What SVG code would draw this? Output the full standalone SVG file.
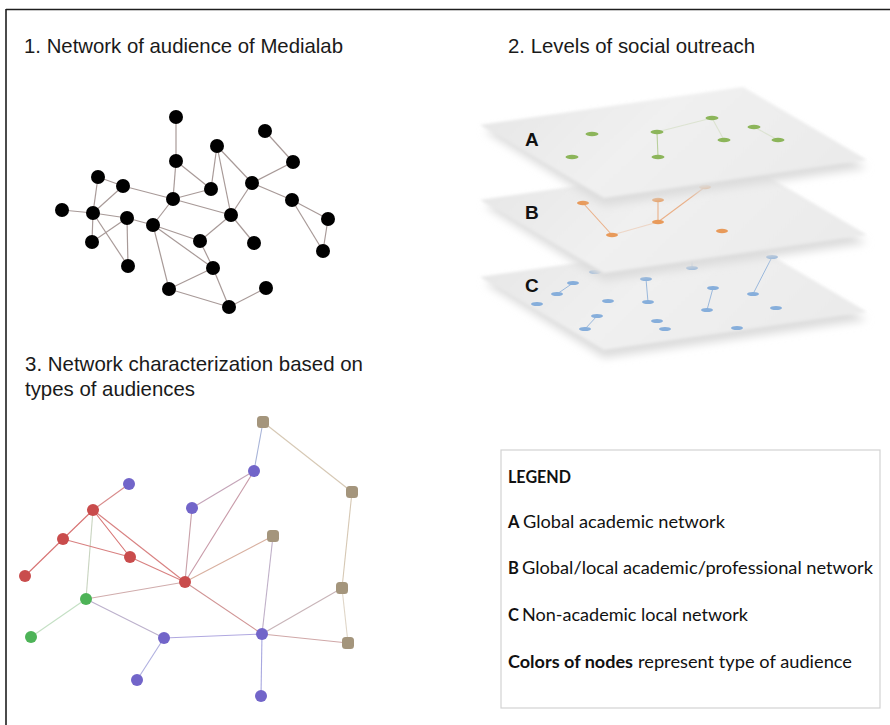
<svg xmlns="http://www.w3.org/2000/svg" width="890" height="725" viewBox="0 0 890 725">
<defs>
<style>
.title{font-family:"Liberation Sans",Arial,sans-serif;font-size:20.4px;fill:#1a1a1a}
.lab{font-family:"Liberation Sans",Arial,sans-serif;font-size:19px;font-weight:bold;fill:#111}
.leg{font-family:Lato,"Liberation Sans",sans-serif;font-size:16.5px;fill:#111}
.legb{font-family:Lato,"Liberation Sans",sans-serif;font-size:16.5px;font-weight:bold;fill:#111}
.p1e line{stroke:#a89a98;stroke-width:1.2}
.p1n{fill:#000}
.p3e line{stroke-width:1.1}
.red{fill:#c94c4c}
.blue{fill:#7265c9}
.tan{fill:#a4957c}
.green{fill:#4db357}
.ga{fill:#8cb55a}
.ob{fill:#e89a5a}
.bc{fill:#86aedb}
.plane{fill:url(#pg);filter:url(#soft)}
.shadow{fill:#dcdcdc;filter:url(#blur)}
</style>
<linearGradient id="pg" x1="0" y1="0" x2="1" y2="0.3">
<stop offset="0" stop-color="#e5e5e5"/>
<stop offset="0.5" stop-color="#f0f0f0"/>
<stop offset="1" stop-color="#ebebeb"/>
</linearGradient>
<filter id="soft" x="-5%" y="-20%" width="110%" height="140%"><feGaussianBlur stdDeviation="1.4"/></filter>
<filter id="blur" x="-10%" y="-30%" width="120%" height="160%"><feGaussianBlur stdDeviation="4"/></filter>
</defs>
<rect width="890" height="725" fill="#fff"/>
<g id="frame" stroke="#1e1e1e" stroke-width="1.6" fill="none">
<line x1="6" y1="9.5" x2="890" y2="9.5"/>
<line x1="6" y1="9" x2="6" y2="725"/>
</g>

<g id="titles">
<text class="title" x="24" y="53" textLength="319" lengthAdjust="spacingAndGlyphs">1. Network of audience of Medialab</text>
<text class="title" x="508" y="53" textLength="247" lengthAdjust="spacingAndGlyphs">2. Levels of social outreach</text>
<text class="title" x="25" y="371" textLength="338" lengthAdjust="spacingAndGlyphs">3. Network characterization based on</text>
<text class="title" x="25" y="396">types of audiences</text>
</g>

<!-- Panel 1 -->
<g id="p1-edges" class="p1e">
<line x1="176" y1="117" x2="176" y2="161"/>
<line x1="176" y1="161" x2="173" y2="199"/>
<line x1="176" y1="161" x2="211" y2="189"/>
<line x1="217" y1="146" x2="211" y2="189"/>
<line x1="217" y1="146" x2="252" y2="183"/>
<line x1="217" y1="146" x2="231" y2="215"/>
<line x1="265" y1="131" x2="293" y2="162"/>
<line x1="293" y1="162" x2="252" y2="183"/>
<line x1="252" y1="183" x2="292" y2="200"/>
<line x1="252" y1="183" x2="231" y2="215"/>
<line x1="292" y1="200" x2="328" y2="219"/>
<line x1="292" y1="200" x2="323" y2="251"/>
<line x1="328" y1="219" x2="323" y2="251"/>
<line x1="98" y1="177" x2="123" y2="186"/>
<line x1="98" y1="177" x2="93" y2="213"/>
<line x1="123" y1="186" x2="93" y2="213"/>
<line x1="123" y1="186" x2="173" y2="199"/>
<line x1="173" y1="199" x2="211" y2="189"/>
<line x1="173" y1="199" x2="231" y2="215"/>
<line x1="173" y1="199" x2="153" y2="225"/>
<line x1="62" y1="210" x2="93" y2="213"/>
<line x1="93" y1="213" x2="127" y2="218"/>
<line x1="93" y1="213" x2="92" y2="242"/>
<line x1="93" y1="213" x2="128" y2="266"/>
<line x1="127" y1="218" x2="92" y2="242"/>
<line x1="127" y1="218" x2="128" y2="266"/>
<line x1="127" y1="218" x2="153" y2="225"/>
<line x1="153" y1="225" x2="200" y2="241"/>
<line x1="153" y1="225" x2="213" y2="268"/>
<line x1="153" y1="225" x2="169" y2="289"/>
<line x1="231" y1="215" x2="200" y2="241"/>
<line x1="231" y1="215" x2="254" y2="243"/>
<line x1="200" y1="241" x2="213" y2="268"/>
<line x1="213" y1="268" x2="169" y2="289"/>
<line x1="213" y1="268" x2="229" y2="307"/>
<line x1="169" y1="289" x2="229" y2="307"/>
<line x1="229" y1="307" x2="266" y2="288"/>
</g>
<g id="p1-nodes" class="p1n">
<g id="p1n1"><circle cx="176" cy="117" r="7"/></g>
<g id="p1n2"><circle cx="265" cy="131" r="7"/></g>
<g id="p1n3"><circle cx="217" cy="146" r="7"/></g>
<g id="p1n4"><circle cx="176" cy="161" r="7"/></g>
<g id="p1n5"><circle cx="293" cy="162" r="7"/></g>
<g id="p1n6"><circle cx="98" cy="177" r="7"/></g>
<g id="p1n7"><circle cx="123" cy="186" r="7"/></g>
<g id="p1n8"><circle cx="211" cy="189" r="7"/></g>
<g id="p1n9"><circle cx="252" cy="183" r="7"/></g>
<g id="p1n10"><circle cx="173" cy="199" r="7"/></g>
<g id="p1n11"><circle cx="292" cy="200" r="7"/></g>
<g id="p1n12"><circle cx="62" cy="210" r="7"/></g>
<g id="p1n13"><circle cx="93" cy="213" r="7"/></g>
<g id="p1n14"><circle cx="127" cy="218" r="7"/></g>
<g id="p1n15"><circle cx="153" cy="225" r="7"/></g>
<g id="p1n16"><circle cx="231" cy="215" r="7"/></g>
<g id="p1n17"><circle cx="328" cy="219" r="7"/></g>
<g id="p1n18"><circle cx="92" cy="242" r="7"/></g>
<g id="p1n19"><circle cx="200" cy="241" r="7"/></g>
<g id="p1n20"><circle cx="254" cy="243" r="7"/></g>
<g id="p1n21"><circle cx="323" cy="251" r="7"/></g>
<g id="p1n22"><circle cx="128" cy="266" r="7"/></g>
<g id="p1n23"><circle cx="213" cy="268" r="7"/></g>
<g id="p1n24"><circle cx="169" cy="289" r="7"/></g>
<g id="p1n25"><circle cx="266" cy="288" r="7"/></g>
<g id="p1n26"><circle cx="229" cy="307" r="7"/></g>
</g>

<!-- Panel 2 layers -->
<g id="layer-C">
<polygon class="shadow" points="484,283 743,247 867,320 604,358"/>
<polygon class="plane" points="480,277 743,239 867,312 604,350"/>
<g stroke="#9ab8dc" stroke-width="1">
<line x1="692" y1="253" x2="692" y2="268"/>
<line x1="646" y1="279" x2="648" y2="302"/>
<line x1="772" y1="257" x2="753" y2="294"/>
<line x1="713" y1="288" x2="707" y2="310"/>
<line x1="573" y1="283" x2="557" y2="294"/>
<line x1="597" y1="316" x2="585" y2="329"/>
</g>
<g class="bc">
<ellipse cx="595" cy="272" rx="6" ry="2"/>
<ellipse cx="573" cy="283" rx="6" ry="2"/>
<ellipse cx="557" cy="294" rx="6" ry="2"/>
<ellipse cx="537" cy="304" rx="6" ry="2"/>
<ellipse cx="608" cy="301" rx="6" ry="2"/>
<ellipse cx="597" cy="316" rx="6" ry="2"/>
<ellipse cx="585" cy="329" rx="6" ry="2"/>
<ellipse cx="646" cy="279" rx="6" ry="2"/>
<ellipse cx="648" cy="302" rx="6" ry="2"/>
<ellipse cx="657" cy="321" rx="6" ry="2"/>
<ellipse cx="665" cy="329" rx="6" ry="2"/>
<ellipse cx="692" cy="253" rx="6" ry="2"/>
<ellipse cx="692" cy="268" rx="6" ry="2"/>
<ellipse cx="713" cy="288" rx="6" ry="2"/>
<ellipse cx="707" cy="310" rx="6" ry="2"/>
<ellipse cx="737" cy="328" rx="6" ry="2"/>
<ellipse cx="753" cy="294" rx="6" ry="2"/>
<ellipse cx="772" cy="257" rx="6" ry="2"/>
<ellipse cx="776" cy="308" rx="6" ry="2"/>
</g>
<text class="lab" x="525" y="292">C</text>
</g>
<g id="layer-B">
<polygon class="shadow" points="484,206 743,170 867,243 604,281"/>
<polygon class="plane" points="480,200 743,162 867,235 604,273"/>
<g stroke="#eab088" stroke-width="1.1">
<line x1="583" y1="203" x2="612" y2="235"/>
<line x1="658" y1="200" x2="658" y2="222"/>
<line x1="658" y1="222" x2="705" y2="187"/>
<line x1="612" y1="235" x2="658" y2="222" stroke-opacity="0.4"/>
</g>
<g class="ob">
<ellipse cx="583" cy="203" rx="6" ry="2.2"/>
<ellipse cx="658" cy="200" rx="6" ry="2.2"/>
<ellipse cx="705" cy="187" rx="6" ry="2.2"/>
<ellipse cx="658" cy="222" rx="6" ry="2.2"/>
<ellipse cx="612" cy="235" rx="6" ry="2.2"/>
<ellipse cx="722" cy="231" rx="6" ry="2.2"/>
</g>
<text class="lab" x="525" y="219">B</text>
</g>
<g id="layer-A">
<polygon class="shadow" points="484,131 743,95 867,168 604,206"/>
<polygon class="plane" points="480,125 743,87 867,160 604,198"/>
<g stroke="#b9cf9c" stroke-width="1.1">
<line x1="657" y1="132" x2="658" y2="157"/>
<line x1="657" y1="132" x2="712" y2="118" stroke-opacity="0.35"/>
<line x1="712" y1="118" x2="724" y2="140" stroke-opacity="0.35"/>
<line x1="754" y1="127" x2="778" y2="140" stroke-opacity="0.35"/>
</g>
<g class="ga">
<ellipse cx="592" cy="134" rx="6.5" ry="2.2"/>
<ellipse cx="657" cy="132" rx="6.5" ry="2.2"/>
<ellipse cx="658" cy="157" rx="6.5" ry="2.2"/>
<ellipse cx="712" cy="118" rx="6.5" ry="2.2"/>
<ellipse cx="754" cy="127" rx="6.5" ry="2.2"/>
<ellipse cx="724" cy="140" rx="6.5" ry="2.2"/>
<ellipse cx="778" cy="140" rx="6.5" ry="2.2"/>
<ellipse cx="572" cy="157" rx="6.5" ry="2.2"/>
</g>
<text class="lab" x="525" y="146">A</text>
</g>

<!-- Panel 3 -->
<g id="p3-edges" class="p3e">
<line x1="263" y1="422" x2="254" y2="471" stroke="#a8b4d8"/>
<line x1="263" y1="422" x2="352" y2="492" stroke="#d6c8b4"/>
<line x1="352" y1="492" x2="342" y2="588" stroke="#d6c8b4"/>
<line x1="342" y1="588" x2="348" y2="643" stroke="#e0d6c8"/>
<line x1="342" y1="588" x2="262" y2="634" stroke="#c8b4b8"/>
<line x1="254" y1="471" x2="192" y2="508" stroke="#c4a4b8"/>
<line x1="254" y1="471" x2="185" y2="582" stroke="#c89aa8"/>
<line x1="192" y1="508" x2="185" y2="582" stroke="#c8a0a8"/>
<line x1="129" y1="484" x2="93" y2="510" stroke="#d88a8a"/>
<line x1="93" y1="510" x2="63" y2="539" stroke="#d77272"/>
<line x1="93" y1="510" x2="130" y2="557" stroke="#d77272"/>
<line x1="93" y1="510" x2="185" y2="582" stroke="#d88080"/>
<line x1="93" y1="510" x2="86" y2="599" stroke="#c8d4c0"/>
<line x1="63" y1="539" x2="25" y2="576" stroke="#d77272"/>
<line x1="63" y1="539" x2="130" y2="557" stroke="#d88080"/>
<line x1="130" y1="557" x2="185" y2="582" stroke="#d88080"/>
<line x1="185" y1="582" x2="273" y2="536" stroke="#d8b0a0"/>
<line x1="185" y1="582" x2="86" y2="599" stroke="#d0acac"/>
<line x1="185" y1="582" x2="262" y2="634" stroke="#d09494"/>
<line x1="86" y1="599" x2="31" y2="637" stroke="#c4e0c4"/>
<line x1="86" y1="599" x2="164" y2="638" stroke="#bcb0cc"/>
<line x1="164" y1="638" x2="262" y2="634" stroke="#b0a8e0"/>
<line x1="164" y1="638" x2="137" y2="680" stroke="#b0b0e0"/>
<line x1="262" y1="634" x2="273" y2="536" stroke="#c0b0c8"/>
<line x1="262" y1="634" x2="348" y2="643" stroke="#d0a8a8"/>
<line x1="262" y1="634" x2="261" y2="696" stroke="#a8a8e0"/>
</g>
<g id="p3-nodes">
<g id="p3-tan1" class="tan"><rect x="257" y="416" width="12" height="12" rx="3.5"/></g>
<g id="p3-blue1" class="blue"><circle cx="254" cy="471" r="6"/></g>
<g id="p3-blue2" class="blue"><circle cx="129" cy="484" r="6"/></g>
<g id="p3-tan2" class="tan"><rect x="346" y="486" width="12" height="12" rx="3.5"/></g>
<g id="p3-red1" class="red"><circle cx="93" cy="510" r="6"/></g>
<g id="p3-blue3" class="blue"><circle cx="192" cy="508" r="6"/></g>
<g id="p3-tan3" class="tan"><rect x="267" y="530" width="12" height="12" rx="3.5"/></g>
<g id="p3-red2" class="red"><circle cx="63" cy="539" r="6"/></g>
<g id="p3-red3" class="red"><circle cx="130" cy="557" r="6"/></g>
<g id="p3-red4" class="red"><circle cx="25" cy="576" r="6"/></g>
<g id="p3-red5" class="red"><circle cx="185" cy="582" r="6"/></g>
<g id="p3-tan4" class="tan"><rect x="336" y="582" width="12" height="12" rx="3.5"/></g>
<g id="p3-green1" class="green"><circle cx="86" cy="599" r="6"/></g>
<g id="p3-green2" class="green"><circle cx="31" cy="637" r="6"/></g>
<g id="p3-blue4" class="blue"><circle cx="164" cy="638" r="6"/></g>
<g id="p3-blue5" class="blue"><circle cx="262" cy="634" r="6"/></g>
<g id="p3-tan5" class="tan"><rect x="342" y="637" width="12" height="12" rx="3.5"/></g>
<g id="p3-blue6" class="blue"><circle cx="137" cy="680" r="6"/></g>
<g id="p3-blue7" class="blue"><circle cx="261" cy="696" r="6"/></g>
</g>

<!-- Legend -->
<g id="legend">
<rect x="501" y="450" width="379" height="258" fill="#fff" stroke="#d2d2d2" stroke-width="1.2"/>
<text class="legb" x="508" y="483" textLength="63" lengthAdjust="spacingAndGlyphs">LEGEND</text>
<text class="legb" x="508" y="528">A</text>
<text class="leg" x="523" y="528" textLength="202" lengthAdjust="spacingAndGlyphs">Global academic network</text>
<text class="legb" x="508" y="574">B</text>
<text class="leg" x="522" y="574" textLength="351" lengthAdjust="spacingAndGlyphs">Global/local academic/professional network</text>
<text class="legb" x="508" y="621">C</text>
<text class="leg" x="522" y="621" textLength="226" lengthAdjust="spacingAndGlyphs">Non-academic local network</text>
<text class="legb" x="508" y="668" textLength="125" lengthAdjust="spacingAndGlyphs">Colors of nodes</text>
<text class="leg" x="638" y="668" textLength="214" lengthAdjust="spacingAndGlyphs">represent type of audience</text>
</g>
</svg>
